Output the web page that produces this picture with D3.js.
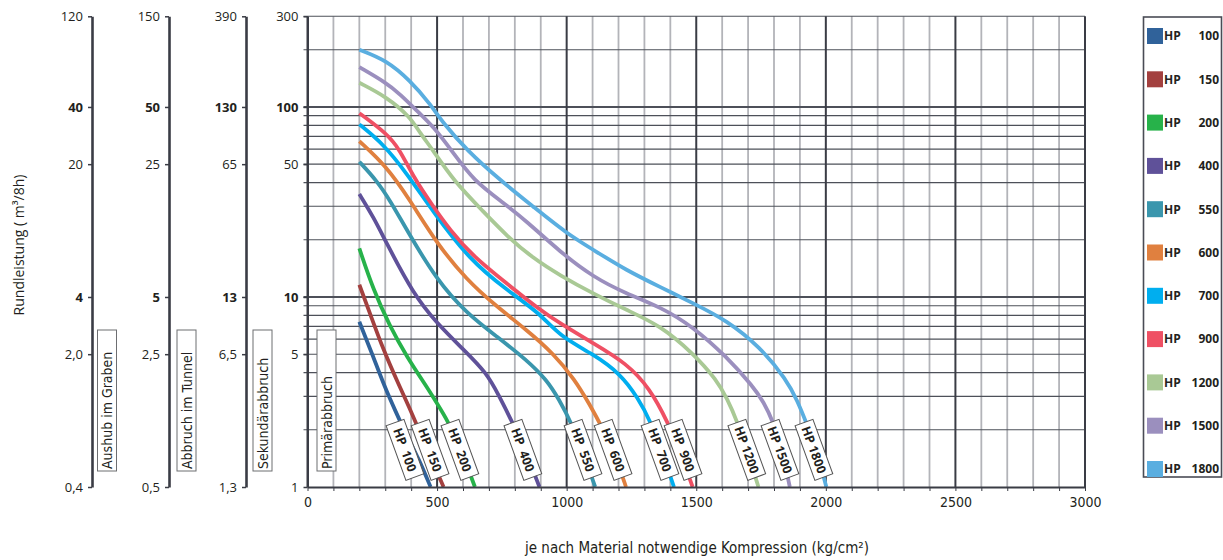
<!DOCTYPE html>
<html>
<head>
<meta charset="utf-8">
<script src="https://cdn.jsdelivr.net/npm/d3@7"></script>
<style>
  body { margin: 0; background: #fff; }
  text { font-family: "Open Sans", "DejaVu Sans", sans-serif; fill: #231f20; }
  .narrow { font-family: "Liberation Sans Narrow", "DejaVu Sans Condensed", sans-serif; }
</style>
</head>
<body>
<svg id="chart" width="1223" height="560"></svg>
<script>
// read in the data (compression kg/cm2, output m3/8h)
var models = ['HP 100','HP 150','HP 200','HP 400','HP 550','HP 600','HP 700','HP 900','HP 1200','HP 1500','HP 1800'];
var colors = ['#30629a','#a3403f','#27b24a','#5f5199','#3a96ad','#e0803f','#00aeef','#ef5064','#a9c995','#9b8fbe','#5aaee0'];

var hp100  = [[200,7.4],[250,5.0],[300,3.3],[340,2.5],[380,1.9],[430,1.4],[475,1]];
var hp150  = [[200,11.6],[241,8.2],[292,5.3],[350,3.5],[400,2.5],[460,1.6],[525,1]];
var hp200  = [[200,18],[254,10.9],[318,7],[383,4.85],[460,3.37],[500,2.75],[540,2.25],[590,1.6],[646,1]];
var hp400  = [[200,34.8],[254,26.4],[305,19.2],[408,10.4],[498,7.3],[601,5.3],[691,4.0],[740,3.0],[790,2.2],[845,1.5],[895,1]];
var hp550  = [[200,51.5],[267,41],[320,32],[383,22.5],[498,12.3],[614,8.2],[730,6.2],[846,4.66],[923,3.66],[970,2.9],[1020,2.15],[1065,1.5],[1110,1]];
var hp600  = [[200,66],[305,48.7],[395,32.4],[498,19.2],[614,12.3],[730,8.9],[846,6.7],[948,5.05],[1030,3.7],[1090,2.7],[1135,2.08],[1185,1.5],[1229,1]];
var hp700  = [[200,81],[292,64],[383,44.8],[485,28],[627,15.6],[768,10.9],[897,8.2],[974,6.2],[1103,5.0],[1206,3.96],[1275,2.95],[1325,2.2],[1370,1.5],[1414,1]];
var hp900  = [[200,92.7],[305,72.7],[357,59.4],[408,42.9],[485,29.9],[550,22.5],[640,16.3],[768,11.8],[897,8.54],[974,7.27],[1103,5.7],[1231,4.48],[1321,3.3],[1390,2.2],[1440,1.5],[1486,1]];
var hp1200 = [[200,134],[305,113],[395,89],[434,73],[485,59],[563,41],[680,28],[768,21],[870,16],[974,13],[1103,10.4],[1231,8.54],[1360,7.1],[1488,5.05],[1579,3.66],[1620,2.9],[1656,2.25],[1700,1.5],[1740,1]];
var hp1500 = [[200,162],[300,135],[357,117],[434,92],[485,79],[560,58],[640,41],[760,31],[846,25],[974,17.3],[1103,12.7],[1231,10.4],[1360,8.89],[1488,6.97],[1617,4.85],[1720,3.37],[1760,2.8],[1797,2.2],[1830,1.6],[1861,1]];
var hp1800 = [[200,200],[305,176],[395,138],[473,104],[524,82],[614,59.4],[743,41.2],[871,29.9],[1000,21.6],[1103,17.7],[1231,13.8],[1360,11.3],[1488,9.27],[1617,7.55],[1746,5.47],[1849,3.66],[1890,2.85],[1926,2.16],[1965,1.55],[2002,1]];
var series = [hp100,hp150,hp200,hp400,hp550,hp600,hp700,hp900,hp1200,hp1500,hp1800];

// compression at which each curve label sits
var labelKg = [376,473,588,831,1063,1179,1360,1449,1695,1823,1954];
var labelLevel = 1.57;

// tick values and labels
var xTicks = d3.range(0, 3001, 100);
var yGrid = [2,3,4,5,6,7,8,9,10,20,30,40,50,60,70,80,90,100,200,300];
var mainTicks = [1,5,10,50,100,300];
var mainLabels = ['1','5','10','50','100','300'];
var grabenTicks = [0.4,2,4,20,40,120];
var grabenLabels = ['0,4','2,0','4','20','40','120'];
var tunnelTicks = [0.5,2.5,5,25,50,150];
var tunnelLabels = ['0,5','2,5','5','25','50','150'];
var sekTicks = [1.3,6.5,13,65,130,390];
var sekLabels = ['1,3','6,5','13','65','130','390'];
var boxTexts = ['Aushub im Graben','Abbruch im Tunnel','Sekundärabbruch','Primärabbruch'];

var svg = d3.select('#chart');
var plotTop = 16.3, plotBottom = 487, plotLeft = 307.5, plotRight = 1085;

var x = d3.scaleLinear().domain([0, 3000]).range([plotLeft, plotRight]);
var y = d3.scaleLog().domain([1, 300]).range([plotBottom, plotTop]);

// grid - light verticals first
svg.append('g').selectAll('line')
    .data(xTicks.filter(function(d) { return d % 500 != 0; }))
  .enter().append('line')
    .attr('x1', function(d) { return x(d); }).attr('x2', function(d) { return x(d); })
    .attr('y1', plotTop).attr('y2', plotBottom)
    .attr('stroke', '#b3b4b9').attr('stroke-width', 1.8);

svg.append('g').selectAll('line')
    .data(yGrid)
  .enter().append('line')
    .attr('x1', plotLeft - 4).attr('x2', plotRight)
    .attr('y1', function(d) { return y(d); }).attr('y2', function(d) { return y(d); })
    .attr('stroke', '#4d5059')
    .attr('stroke-width', function(d) { return (d == 10 || d == 100) ? 2 : 1.1; });

svg.append('g').selectAll('line')
    .data(xTicks.filter(function(d) { return d % 500 == 0; }))
  .enter().append('line')
    .attr('x1', function(d) { return x(d); }).attr('x2', function(d) { return x(d); })
    .attr('y1', plotTop).attr('y2', plotBottom)
    .attr('stroke', '#3a3c45').attr('stroke-width', 2);

// curves
var line = d3.line()
    .x(function(d) { return x(d[0]); })
    .y(function(d) { return y(d[1]); })
    .curve(d3.curveBasis);

svg.append('g').selectAll('path')
    .data(series)
  .enter().append('path')
    .attr('d', line)
    .attr('fill', 'none')
    .attr('stroke', function(d, i) { return colors[i]; })
    .attr('stroke-width', 3.8)
    .attr('stroke-linecap', 'butt');

// rotated labels on the curves
var labels = svg.append('g').selectAll('g')
    .data(labelKg)
  .enter().append('g')
    .attr('transform', function(d) {
      return 'translate(' + x(d) + ',' + y(labelLevel) + ') rotate(70)';
    });
labels.append('rect')
    .attr('x', -29).attr('y', -9.5).attr('width', 58).attr('height', 19)
    .attr('fill', '#fff').attr('stroke', '#555').attr('stroke-width', 1);
labels.append('text')
    .attr('text-anchor', 'middle').attr('dy', '0.36em')
    .style('font-size', '12.5px').style('font-weight', 'bold').style('white-space', 'pre')
    .text(function(d, i) { return models[i].length < 7 ? models[i].replace(' ', '  ') : models[i]; });

// x axis
var xAxis = svg.append('g')
    .attr('transform', 'translate(0,' + plotBottom + ')')
    .call(d3.axisBottom(x).tickValues(xTicks).tickSize(4).tickSizeOuter(0)
      .tickFormat(function(d) { return d % 500 == 0 ? d : ''; }));
xAxis.attr('font-family', null).attr('font-size', null);
xAxis.select('.domain').attr('stroke', '#3a3c45').attr('stroke-width', 2);
xAxis.selectAll('.tick line').attr('stroke', '#3a3c45').attr('stroke-width', 1);
xAxis.selectAll('text').attr('class', 'narrow').style('font-size', '14px').attr('dy', '0.95em').attr('fill', '#231f20');

// y axes: main plus the three material scales
function drawAxis(px, domLow, ticks, labelsTxt) {
  var s = d3.scaleLog().domain([domLow, domLow * 300]).range([plotBottom, plotTop]);
  var g = svg.append('g')
      .attr('transform', 'translate(' + px + ',0)')
      .call(d3.axisLeft(s).tickValues(ticks).tickSize(4).tickSizeOuter(0).tickPadding(5)
        .tickFormat(function(d, i) { return labelsTxt[i]; }));
  g.attr('font-family', null).attr('font-size', null);
  g.select('.domain').attr('stroke', '#3a3c45').attr('stroke-width', px == plotLeft ? 2 : 2.6);
  g.selectAll('.tick line').attr('stroke', '#3a3c45').attr('stroke-width', 1.5);
  g.selectAll('text')
      .style('font-size', '13px').attr('fill', '#231f20')
      .style('font-weight', function(d, i) { return (i == 2 || i == 4) ? 'bold' : 'normal'; });
}
drawAxis(92, 0.4, grabenTicks, grabenLabels);
drawAxis(169, 0.5, tunnelTicks, tunnelLabels);
drawAxis(246, 1.3, sekTicks, sekLabels);
drawAxis(plotLeft, 1, mainTicks, mainLabels);

// category boxes with vertical text
var boxX = [97.5, 177, 253, 317];
var boxes = svg.append('g').selectAll('g')
    .data(boxTexts)
  .enter().append('g')
    .attr('transform', function(d, i) { return 'translate(' + boxX[i] + ',330)'; });
boxes.append('rect')
    .attr('width', 19).attr('height', 141)
    .attr('fill', '#fff').attr('stroke', '#6d6e71').attr('stroke-width', 1);
boxes.append('text')
    .attr('class', 'narrow')
    .attr('transform', 'translate(14.5,139) rotate(-90)')
    .style('font-size', '14px')
    .text(function(d) { return d; });

// axis titles
svg.append('text')
    .attr('transform', 'translate(24,245) rotate(-90)')
    .attr('text-anchor', 'middle')
    .style('font-size', '14px')
    .text('Rundleistung ( m³/8h)');
svg.append('text')
    .attr('class', 'narrow')
    .attr('x', 697).attr('y', 553)
    .attr('text-anchor', 'middle')
    .style('font-size', '15px')
    .text('je nach Material notwendige Kompression (kg/cm²)');

// legend
var legend = svg.append('g');
legend.append('rect')
    .attr('x', 1143.5).attr('y', 17).attr('width', 78).attr('height', 460)
    .attr('fill', 'none').attr('stroke', '#4a4c55').attr('stroke-width', 1.6);
var items = legend.selectAll('.item')
    .data(models)
  .enter().append('g')
    .attr('class', 'item')
    .attr('transform', function(d, i) { return 'translate(0,' + (36 + i * 43.3) + ')'; });
items.append('rect')
    .attr('x', 1147).attr('y', -8).attr('width', 16).attr('height', 16)
    .attr('fill', function(d, i) { return colors[i]; });
items.append('text')
    .attr('x', 1164).attr('dy', '0.36em')
    .style('font-size', '12px').style('font-weight', 'bold')
    .text('HP');
items.append('text')
    .attr('x', 1219).attr('dy', '0.36em').attr('text-anchor', 'end')
    .style('font-size', '12px').style('font-weight', 'bold')
    .text(function(d) { return d.split(' ')[1]; });
</script>
</body>
</html>
